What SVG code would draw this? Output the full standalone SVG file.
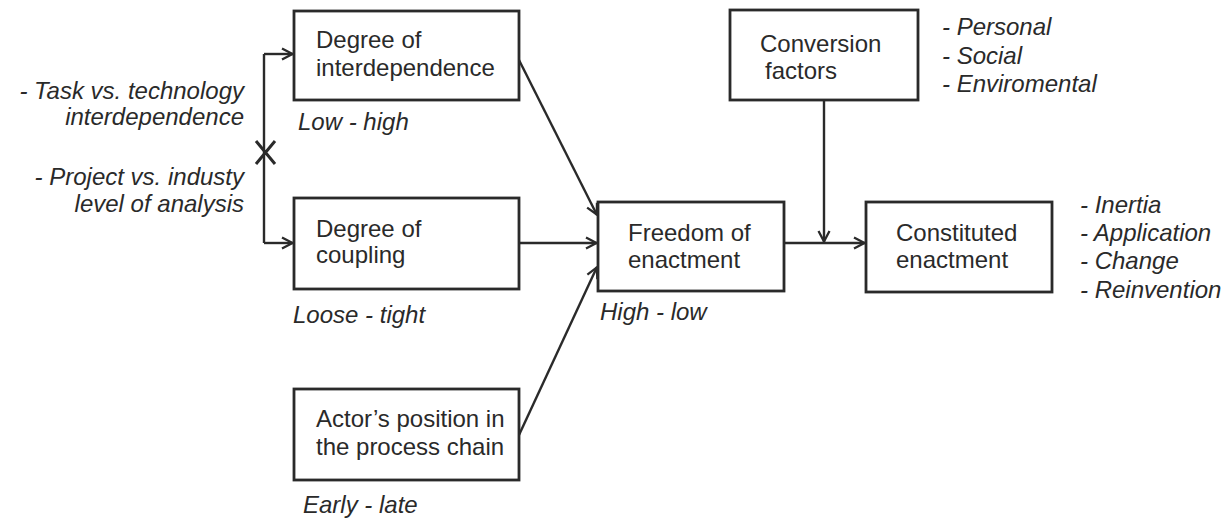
<svg xmlns="http://www.w3.org/2000/svg" width="1232" height="519" viewBox="0 0 1232 519">
<style>
.box{fill:#fff;stroke:#2a2a2a;stroke-width:2.8}
.t{font-family:"Liberation Sans",Arial,sans-serif;font-size:24px;fill:#2a2a2a}
.i{font-family:"Liberation Sans",Arial,sans-serif;font-size:24px;font-style:italic;fill:#2a2a2a}
.c{fill:none;stroke:#2a2a2a;stroke-width:2.4}
</style>
<defs>
<marker id="ah" viewBox="0 0 14 14" refX="13" refY="7" markerWidth="14" markerHeight="14" markerUnits="userSpaceOnUse" orient="auto">
<path d="M2,1.5 L12.5,7 L2,12.5" fill="none" stroke="#2a2a2a" stroke-width="2.3"/>
</marker>
</defs>
<rect width="1232" height="519" fill="#fff"/>
<g id="connectors">
<path class="c" d="M264,54 L264,243"/>
<path class="c" d="M264,54 L293,54" marker-end="url(#ah)"/>
<path class="c" d="M264,243 L293,243" marker-end="url(#ah)"/>
<path d="M256,141 L275,164 M275,141 L256,164" fill="none" stroke="#2a2a2a" stroke-width="3"/>
<path class="c" d="M519,60 L597,215" marker-end="url(#ah)"/>
<path class="c" d="M519,243 L597,243" marker-end="url(#ah)"/>
<path class="c" d="M519,435 L597,267" marker-end="url(#ah)"/>
<path class="c" d="M824,100 L824,242" marker-end="url(#ah)"/>
<path class="c" d="M784,243 L865,243" marker-end="url(#ah)"/>
</g>
<g id="moderators">
<text class="i" x="244" y="99" text-anchor="end">- Task vs. technology</text>
<text class="i" x="244" y="125" text-anchor="end">interdependence</text>
<text class="i" x="244" y="185" text-anchor="end">- Project vs. industy</text>
<text class="i" x="244" y="212" text-anchor="end">level of analysis</text>
</g>
<g id="interdependence">
<rect class="box" x="294" y="11" width="225" height="89"/>
<text class="t" x="316" y="48">Degree of</text>
<text class="t" x="316" y="76">interdependence</text>
<text class="i" x="298" y="130">Low - high</text>
</g>
<g id="coupling">
<rect class="box" x="294" y="198" width="225" height="91"/>
<text class="t" x="316" y="237">Degree of</text>
<text class="t" x="316" y="263">coupling</text>
<text class="i" x="293" y="323">Loose - tight</text>
</g>
<g id="position">
<rect class="box" x="294" y="389" width="225" height="91"/>
<text class="t" x="316" y="427">Actor’s position in</text>
<text class="t" x="316" y="455">the process chain</text>
<text class="i" x="303" y="513">Early - late</text>
</g>
<g id="freedom">
<rect class="box" x="598" y="202" width="186" height="89"/>
<text class="t" x="628" y="241">Freedom of</text>
<text class="t" x="628" y="268">enactment</text>
<text class="i" x="600" y="320">High - low</text>
</g>
<g id="conversion">
<rect class="box" x="730" y="10" width="188" height="90"/>
<text class="t" x="760" y="52">Conversion</text>
<text class="t" x="765" y="79">factors</text>
<text class="i" x="942" y="35">- Personal</text>
<text class="i" x="942" y="64">- Social</text>
<text class="i" x="942" y="92">- Enviromental</text>
</g>
<g id="constituted">
<rect class="box" x="866" y="202" width="186" height="90"/>
<text class="t" x="896" y="241">Constituted</text>
<text class="t" x="896" y="268">enactment</text>
<text class="i" x="1080" y="213">- Inertia</text>
<text class="i" x="1080" y="241">- Application</text>
<text class="i" x="1080" y="269">- Change</text>
<text class="i" x="1080" y="298">- Reinvention</text>
</g>
</svg>
